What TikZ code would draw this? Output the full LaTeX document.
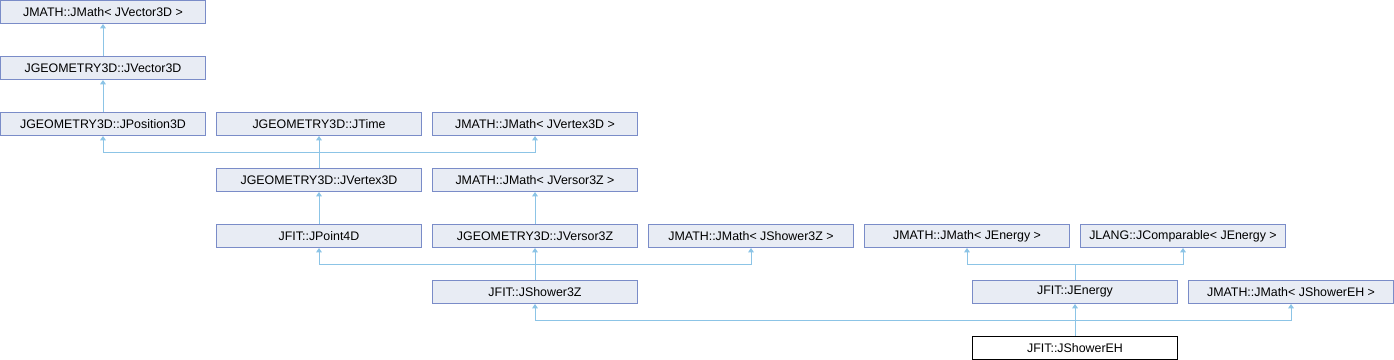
\documentclass[tikz,border=0pt]{standalone}
\usepackage{fontspec}
\setmainfont{Liberation Sans}
\usetikzlibrary{arrows.meta}
\definecolor{boxfill}{RGB}{232,236,244}
\definecolor{boxline}{RGB}{122,140,200}
\definecolor{edgeblue}{RGB}{140,196,230}

\begin{document}
\begin{tikzpicture}[x=0.75pt,y=-0.75pt,
  cls/.style={draw=boxline,fill=boxfill,line width=0.75pt,minimum width=153.75pt,
    minimum height=17.25pt,inner sep=0pt,font=\fontsize{9.3}{11}\selectfont},
  self/.style={cls,draw=black,fill=white},
  inh/.style={draw=edgeblue,line width=0.75pt,{Triangle[width=4.2pt,length=3.2pt]}-}]
\useasboundingbox (0,0) rectangle (1394,360);
% row 0 and 1
\node[cls] (mvec) at (103,12) {JMATH::JMath< JVector3D >};
\node[cls] (vec) at (103,68) {JGEOMETRY3D::JVector3D};
% row 2
\node[cls] (pos) at (103,124) {JGEOMETRY3D::JPosition3D};
\node[cls] (tim) at (319,124) {JGEOMETRY3D::JTime};
\node[cls] (mvtx) at (535,124) {JMATH::JMath< JVertex3D >};
% row 3
\node[cls] (vtx) at (319,180) {JGEOMETRY3D::JVertex3D};
\node[cls] (mvrs) at (535,180) {JMATH::JMath< JVersor3Z >};
% row 4
\node[cls] (pt4) at (319,236) {JFIT::JPoint4D};
\node[cls] (vrs) at (535,236) {JGEOMETRY3D::JVersor3Z};
\node[cls] (mshw) at (751,236) {JMATH::JMath< JShower3Z >};
\node[cls] (meng) at (967,236) {JMATH::JMath< JEnergy >};
\node[cls] (cmp) at (1183,236) {JLANG::JComparable< JEnergy >};
% row 5
\node[cls] (shw) at (535,292) {JFIT::JShower3Z};
\node[cls] (eng) at (1075,292) {JFIT::JEnergy};
\node[cls] (mseh) at (1291,292) {JMATH::JMath< JShowerEH >};
% row 6
\node[self] (seh) at (1075,348) {JFIT::JShowerEH};

\coordinate (j1) at (319,152);
\coordinate (j2) at (535,264);
\coordinate (j3) at (1075,264);
\coordinate (j4) at (1075,320);

\draw[inh] (mvec.south) -- (vec.north);
\draw[inh] (vec.south) -- (pos.north);
\draw[inh] (pos.south) |- (j1) -- (vtx.north);
\draw[inh] (tim.south) -- (j1);
\draw[inh] (mvtx.south) |- (j1);
\draw[inh] (vtx.south) -- (pt4.north);
\draw[inh] (mvrs.south) -- (vrs.north);
\draw[inh] (pt4.south) |- (j2) -- (shw.north);
\draw[inh] (vrs.south) -- (j2);
\draw[inh] (mshw.south) |- (j2);
\draw[inh] (meng.south) |- (j3) -- (eng.north);
\draw[inh] (cmp.south) |- (j3);
\draw[inh] (shw.south) |- (j4) -- (seh.north);
\draw[inh] (eng.south) -- (j4);
\draw[inh] (mseh.south) |- (j4);
\end{tikzpicture}
\end{document}
